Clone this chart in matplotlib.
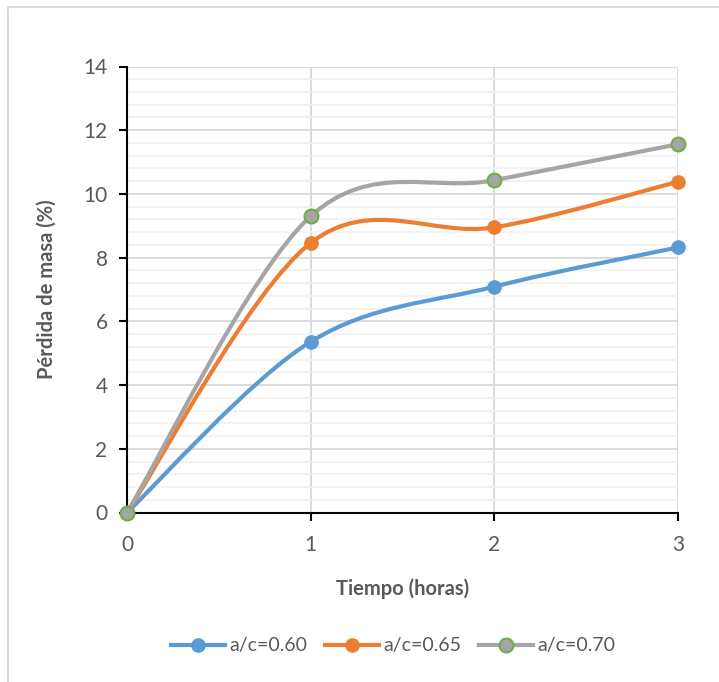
import numpy as np
import matplotlib
matplotlib.use('Agg')
from matplotlib import pyplot as plt
from matplotlib.path import Path
from matplotlib.patches import PathPatch, Rectangle
from matplotlib.lines import Line2D

plt.rcParams['font.family'] = ['Lato', 'DejaVu Sans']

# mass loss (%) against time (hours)
horas = [0, 1, 2, 3]
ac_060 = [0, 5.36, 7.09, 8.32]
ac_065 = [0, 8.46, 8.95, 10.38]
ac_070 = [0, 9.30, 10.43, 11.56]
etiquetas = ['a/c=0.60', 'a/c=0.65', 'a/c=0.70']

AZUL = '#5B9BD5'
NARANJA = '#ED7D31'
GRIS = '#A5A5A5'
VERDE = '#70AD47'
TEXTO = '#595959'


def curva_suave(x, y):
    # Excel-like smoothed line: cubic bezier segments, catmull-rom tangents
    p = np.column_stack([x, y]).astype(float)
    ext = np.vstack([p[0], p, p[-1]])
    verts = [p[0]]
    codes = [Path.MOVETO]
    for i in range(len(p) - 1):
        a, b, c, d = ext[i], ext[i + 1], ext[i + 2], ext[i + 3]
        verts += [b + (c - a) / 6.0, c - (d - b) / 6.0, c]
        codes += [Path.CURVE4] * 3
    return Path(verts, codes)


fig = plt.figure(figsize=(7.19, 6.82), dpi=100)
ax = fig.add_axes([127 / 719, 1 - 512.5 / 682, (678 - 127) / 719, (512.5 - 66.5) / 682])

series = [(ac_060, AZUL, AZUL), (ac_065, NARANJA, NARANJA), (ac_070, GRIS, VERDE)]
for vals, col, borde in series:
    ax.add_patch(PathPatch(curva_suave(horas, vals), fc='none', ec=col, lw=3,
                           capstyle='round', joinstyle='round', zorder=3))
    ax.plot(horas, vals, ls='none', marker='o', ms=10, mfc=col, mec=borde,
            mew=1.5 if borde != col else 0.5, zorder=4, clip_on=False)

ax.set_xlim(0, 3)
ax.set_ylim(0, 14)
ax.set_xticks(horas)
ax.set_yticks(np.arange(0, 15, 2))
ax.set_yticks(np.arange(0, 14.01, 0.4), minor=True)
ax.grid(which='major', color='#D9D9D9', lw=1.3)
ax.grid(which='minor', axis='y', color='#F2F2F2', lw=1.3)
ax.set_axisbelow(True)

for s in ['top', 'right']:
    ax.spines[s].set_visible(False)
for s in ['left', 'bottom']:
    ax.spines[s].set_color('black')
    ax.spines[s].set_linewidth(1.5)
ax.tick_params(which='major', length=6, width=1.5, color='black',
               labelsize=15, labelcolor=TEXTO, pad=8)
ax.tick_params(which='minor', length=0)
ax.tick_params(axis='x', pad=10)

ax.set_xlabel('Tiempo (horas)', fontsize=14.5, fontweight='bold', color=TEXTO, labelpad=17)
ax.set_ylabel('Pérdida de masa (%)', fontsize=14.5, fontweight='bold', color=TEXTO, labelpad=19)

handles = [Line2D([], [], color=c, lw=3, marker='o', ms=10, mfc=c, mec=b,
                  mew=1.5 if b != c else 0.5) for _, c, b in series]
fig.legend(handles, etiquetas, loc='center', bbox_to_anchor=(393 / 719, 1 - 646 / 682),
           ncol=3, frameon=False, fontsize=14, labelcolor=TEXTO,
           handlelength=2.8, handletextpad=0.2, columnspacing=0.9)

# chart area frame
fig.patches.append(Rectangle((8 / 719, -0.1), 1.2, 1 - 7 / 682 + 0.1,
                             transform=fig.transFigure, fc='none', ec='#D9D9D9', lw=1.5))

fig.savefig('out.png', dpi=100)
